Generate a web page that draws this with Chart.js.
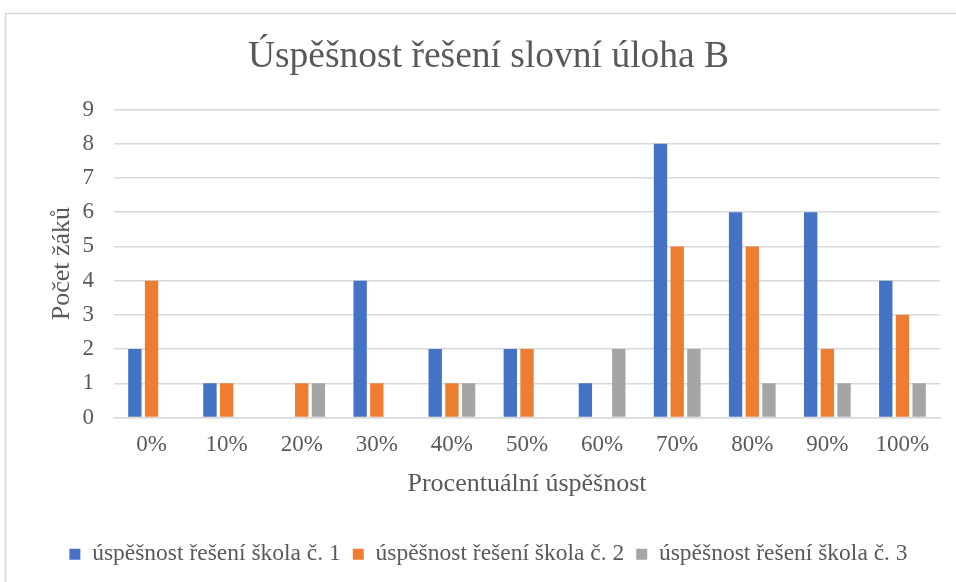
<!DOCTYPE html>
<html>
<head>
<meta charset="utf-8">
<script src="https://cdn.jsdelivr.net/npm/chart.js@4/dist/chart.umd.min.js"></script>
<style>
html,body{margin:0;padding:0;background:#fff;}
#wrap{width:956px;height:582px;position:relative;}
</style>
</head>
<body>
<div id="wrap"><canvas id="c" width="956" height="582"></canvas></div>
<script>
const categories = ['0%','10%','20%','30%','40%','50%','60%','70%','80%','90%','100%'];
const seriesNames = ['úspěšnost řešení škola č. 1','úspěšnost řešení škola č. 2','úspěšnost řešení škola č. 3'];
const school1 = [2,1,0,4,2,2,1,8,6,6,4];
const school2 = [4,1,1,1,1,2,0,5,5,2,3];
const school3 = [0,0,1,0,1,0,2,2,1,1,1];
const colors = ['#4472C4','#ED7D31','#A5A5A5'];
const titleText = 'Úspěšnost řešení slovní úloha B';
const xTitle = 'Procentuální úspěšnost';
const yTitle = 'Počet žáků';

const FONT = "'Liberation Serif','Times New Roman',serif";
const TXT = '#595959';
const GRID = '#d9d9d9';
Chart.defaults.font.family = FONT;
Chart.defaults.color = TXT;

const frame = {
  id: 'frame',
  beforeDraw(chart){
    const ctx = chart.ctx;
    ctx.save();
    ctx.fillStyle = '#fff';
    ctx.fillRect(0,0,chart.width,chart.height);
    ctx.strokeStyle = GRID;
    ctx.lineWidth = 1.5;
    ctx.strokeRect(5.5, 13.5, 1000, 700);
    ctx.restore();
  }
};

const data = {
  labels: categories,
  datasets: [school1, school2, school3].map((d,i)=>({
    label: seriesNames[i],
    data: d,
    backgroundColor: colors[i],
    borderWidth: 0,
    categoryPercentage: 0.667,
    barPercentage: 0.8
  }))
};

new Chart(document.getElementById('c'), {
  type: 'bar',
  data,
  plugins: [frame],
  options: {
    responsive: false,
    animation: false,
    layout: { padding: { left: 37, right: 16, top: 0, bottom: 6 } },
    plugins: {
      title: {
        display: true,
        text: titleText,
        color: TXT,
        font: { family: FONT, size: 37.5, weight: 'normal' },
        padding: { top: 35, bottom: 29.6 }
      },
      legend: {
        position: 'bottom',
        labels: {
          color: TXT,
          font: { family: FONT, size: 23.5 },
          boxWidth: 11,
          boxHeight: 11,
          padding: 12
        }
      },
      tooltip: { enabled: false }
    },
    scales: {
      x: {
        grid: { display: false, drawTicks: false },
        border: { display: true, color: GRID, width: 1.5 },
        ticks: { color: TXT, font: { family: FONT, size: 23 }, padding: 14, maxRotation: 0 },
        title: { display: true, text: xTitle, color: TXT, font: { family: FONT, size: 26 }, padding: { top: 0, bottom: 30.4 } },
        afterFit(s){ s.height = 113; }
      },
      y: {
        min: 0, max: 9,
        grid: { color: GRID, lineWidth: 1.5, drawTicks: false },
        border: { display: false },
        ticks: { stepSize: 1, color: TXT, font: { family: FONT, size: 23 }, padding: 20 },
        title: { display: true, text: yTitle, color: TXT, font: { family: FONT, size: 26 }, padding: { top: 10, bottom: 0 } },
        afterFit(s){ s.width = 77; }
      }
    }
  }
});
</script>
</body>
</html>
